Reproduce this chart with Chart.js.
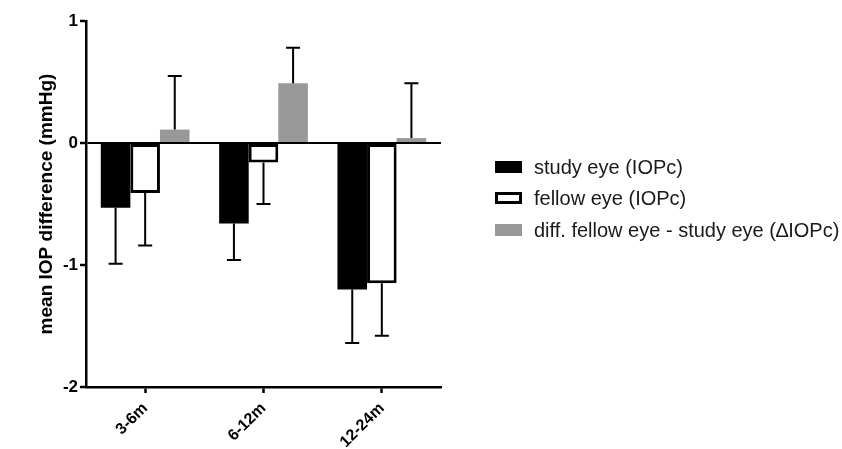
<!DOCTYPE html>
<html>
<head>
<meta charset="utf-8">
<script src="https://cdn.jsdelivr.net/npm/chart.js@4"></script>
<style>
    html, body { margin: 0; padding: 0; background: #fff; }
    #wrap { width: 842px; height: 449px; position: relative; }
</style>
</head>
<body>
<div id="wrap"><canvas id="iop-chart"></canvas></div>
<script>
const categories = ["3-6m", "6-12m", "12-24m"];

const study_eye = [-0.53, -0.66, -1.20];
const study_eye_sd = [0.46, 0.30, 0.44];

const fellow_eye = [-0.41, -0.16, -1.15];
const fellow_eye_sd = [0.43, 0.34, 0.43];

const diff_eye = [0.11, 0.49, 0.04];
const diff_eye_sd = [0.44, 0.29, 0.45];

const y_ticks = [-2, -1, 0, 1];

const FONT = "'Liberation Sans', Arial, sans-serif";

// one-sided error bars, pointing away from zero
const error_bars = {
    id: "error_bars",
    afterDatasetsDraw(chart) {
        const ctx = chart.ctx;
        const y = chart.scales.y;
        chart.data.datasets.forEach((ds, i) => {
            const meta = chart.getDatasetMeta(i);
            meta.data.forEach((bar, j) => {
                const v = ds.data[j];
                const end = v + Math.sign(v) * ds.sd[j];
                const y0 = bar.y;
                const y1 = y.getPixelForValue(end);
                ctx.save();
                ctx.strokeStyle = "#000";
                ctx.lineWidth = 2;
                ctx.beginPath();
                ctx.moveTo(bar.x, y0);
                ctx.lineTo(bar.x, y1);
                ctx.moveTo(bar.x - 7, y1);
                ctx.lineTo(bar.x + 7, y1);
                ctx.stroke();
                ctx.restore();
            });
        });
    }
};

const side_legend = {
    id: "side_legend",
    afterDraw(chart) {
        const ctx = chart.ctx;
        const rows = [167, 198, 230];
        ctx.save();
        chart.data.datasets.forEach((ds, i) => {
            const cy = rows[i];
            ctx.fillStyle = ds.backgroundColor;
            ctx.fillRect(495, cy - 6, 27, 12);
            if (ds.borderWidth > 0) {
                ctx.strokeStyle = ds.borderColor;
                ctx.lineWidth = 3;
                ctx.strokeRect(496.5, cy - 4.5, 24, 9);
            }
            ctx.fillStyle = "#1a1a1a";
            ctx.font = "20px " + FONT;
            ctx.textBaseline = "middle";
            ctx.fillText(ds.label, 534, cy + 1);
        });
        ctx.restore();
    }
};

new Chart(document.getElementById("iop-chart"), {
    type: "bar",
    data: {
        labels: categories,
        datasets: [
            {
                label: "study eye (IOPc)",
                data: study_eye,
                sd: study_eye_sd,
                backgroundColor: "#000000",
                borderColor: "#000000",
                borderWidth: 0
            },
            {
                label: "fellow eye (IOPc)",
                data: fellow_eye,
                sd: fellow_eye_sd,
                backgroundColor: "#ffffff",
                borderColor: "#000000",
                borderWidth: 3,
                borderSkipped: false
            },
            {
                label: "diff. fellow eye - study eye (\u2206IOPc)",
                data: diff_eye,
                sd: diff_eye_sd,
                backgroundColor: "#999999",
                borderColor: "#999999",
                borderWidth: 0
            }
        ]
    },
    options: {
        responsive: true,
        maintainAspectRatio: false,
        animation: false,
        layout: { padding: { left: 0, right: 401, top: 21, bottom: 0 } },
        datasets: { bar: { categoryPercentage: 0.75, barPercentage: 1.0 } },
        plugins: {
            legend: { display: false },
            tooltip: { enabled: false }
        },
        scales: {
            x: {
                afterFit(scale) { scale.height = 62; },
                grid: {
                    offset: false,
                    drawOnChartArea: false,
                    tickLength: 6,
                    tickColor: "#000",
                    tickWidth: 2.5
                },
                border: { color: "#000", width: 2.5 },
                ticks: {
                    color: "#000",
                    minRotation: 45,
                    maxRotation: 45,
                    padding: 6,
                    font: { family: FONT, size: 16, weight: "bold" }
                }
            },
            y: {
                min: -2,
                max: 1,
                afterFit(scale) { scale.width = 86; },
                afterBuildTicks(scale) {
                    scale.ticks = y_ticks.map(v => ({ value: v }));
                },
                grid: {
                    drawOnChartArea: true,
                    color: c => (c.tick && c.tick.value === 0 ? "#000" : "rgba(0,0,0,0)"),
                    lineWidth: 2,
                    tickLength: 6,
                    tickColor: "#000",
                    tickWidth: 2.5
                },
                border: { color: "#000", width: 2.5 },
                ticks: {
                    color: "#000",
                    padding: 2,
                    font: { family: FONT, size: 17, weight: "bold" }
                },
                title: {
                    display: true,
                    text: "mean IOP difference (mmHg)",
                    color: "#000",
                    padding: { top: 35, bottom: 0 },
                    font: { family: FONT, size: 19, weight: "bold" }
                }
            }
        }
    },
    plugins: [error_bars, side_legend]
});
</script>
</body>
</html>
